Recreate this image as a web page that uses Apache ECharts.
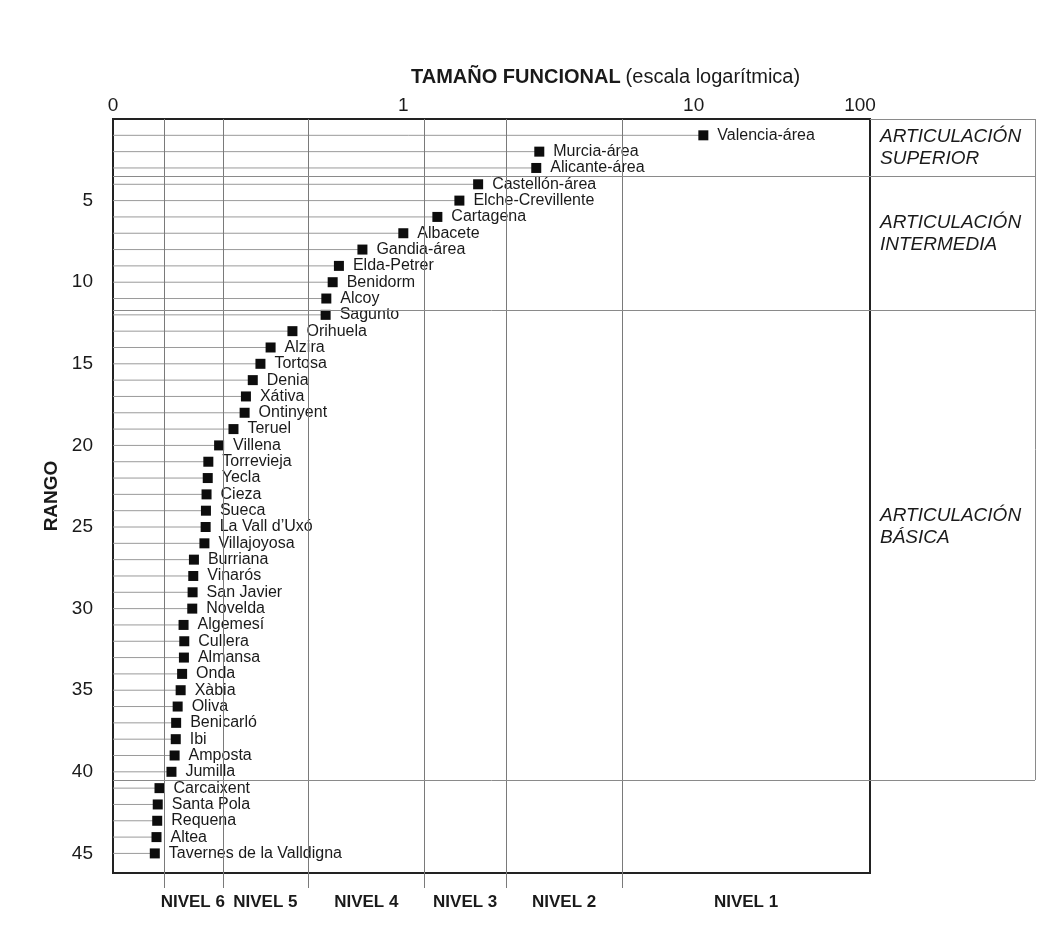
<!DOCTYPE html>
<html>
<head>
<meta charset="utf-8">
<script src="https://cdn.jsdelivr.net/npm/echarts@6/dist/echarts.min.js"></script>
<style>
  html, body { margin: 0; padding: 0; background: #fff; }
  #chart { width: 1060px; height: 950px; }
</style>
</head>
<body>
<div id="chart"></div>
<script>
// Urban areas ordered by rank, with their functional size (log scale)
const cities = [
  'Valencia-área', 'Murcia-área', 'Alicante-área', 'Castellón-área', 'Elche-Crevillente',
  'Cartagena', 'Albacete', 'Gandia-área', 'Elda-Petrer', 'Benidorm',
  'Alcoy', 'Sagunto', 'Orihuela', 'Alzira', 'Tortosa',
  'Denia', 'Xátiva', 'Ontinyent', 'Teruel', 'Villena',
  'Torrevieja', 'Yecla', 'Cieza', 'Sueca', 'La Vall d\u2019Uxó',
  'Villajoyosa', 'Burriana', 'Vinarós', 'San Javier', 'Novelda',
  'Algemesí', 'Cullera', 'Almansa', 'Onda', 'Xàbia',
  'Oliva', 'Benicarló', 'Ibi', 'Amposta', 'Jumilla',
  'Carcaixent', 'Santa Pola', 'Requena', 'Altea', 'Tavernes de la Valldigna'
];
const sizes = [
  10.8, 2.94, 2.87, 1.81, 1.56,
  1.31, 1.00, 0.723, 0.600, 0.571,
  0.543, 0.540, 0.415, 0.349, 0.322,
  0.303, 0.287, 0.284, 0.260, 0.232,
  0.213, 0.212, 0.210, 0.209, 0.2085,
  0.2065, 0.190, 0.189, 0.188, 0.1875,
  0.175, 0.176, 0.1755, 0.173, 0.171,
  0.167, 0.165, 0.1645, 0.163, 0.159,
  0.1446, 0.1426, 0.1420, 0.1412, 0.1393
];
const ranks = cities.map((c, i) => i + 1);

// Top axis tick labels, in tick order
const xTickLabels = ['0', '1', '10', '100'];

// Functional size thresholds separating the hierarchy levels
const levelBounds = [0.149, 0.238, 0.471, 1.18, 2.26, 5.67];
const levelNames = ['NIVEL 6', 'NIVEL 5', 'NIVEL 4', 'NIVEL 3', 'NIVEL 2', 'NIVEL 1'];

// Rank breaks between articulation tiers
const tierBreaks = [3.5, 11.7, 40.5];
const tierNames = ['ARTICULACIÓN\nSUPERIOR', 'ARTICULACIÓN\nINTERMEDIA', 'ARTICULACIÓN\nBÁSICA'];
const tierLabelShift = [0, -9, -18];

const X_MIN = 0.1, X_MAX = 40.5, Y_MAX = 46.2;
const FONT = 'Liberation Sans, Arial, Helvetica, sans-serif';

const chart = echarts.init(document.getElementById('chart'), null, { renderer: 'canvas' });

const levelEdges = levelBounds.concat([X_MAX]);
const levelAreas = levelNames.map((name, i) => [
  { xAxis: levelEdges[i], name: name },
  { xAxis: levelEdges[i + 1] }
]);

const tierEdges = [0].concat(tierBreaks);
const tierAreas = tierNames.map((name, i) => [
  { yAxis: tierEdges[i], name: name, label: { offset: [0, tierLabelShift[i]] } },
  { yAxis: tierEdges[i + 1] }
]);

const option = {
  animation: false,
  backgroundColor: '#fff',
  textStyle: { fontFamily: FONT },
  title: {
    text: '{b|TAMAÑO FUNCIONAL} {n|(escala logarítmica)}',
    left: 406,
    top: 62,
    textStyle: {
      fontWeight: 'normal',
      rich: {
        b: { fontFamily: FONT, fontSize: 20, fontWeight: 'bold', color: '#1a1a1a' },
        n: { fontFamily: FONT, fontSize: 20, fontWeight: 'normal', color: '#1a1a1a' }
      }
    }
  },
  grid: [
    { left: 113, top: 119, width: 757, height: 754, show: true, borderColor: '#222', borderWidth: 2, backgroundColor: 'transparent' },
    { left: 870, top: 119, width: 165, height: 754 },
    { left: 113, top: 873, width: 757, height: 15 }
  ],
  xAxis: [
    {
      gridIndex: 0, type: 'log', logBase: 10, position: 'top',
      min: X_MIN, max: X_MAX,
      axisLine: { show: false }, axisTick: { show: false }, splitLine: { show: false },
      axisLabel: {
        fontFamily: FONT, fontSize: 19, color: '#1a1a1a', margin: 4,
        showMinLabel: true, showMaxLabel: true,
        formatter: (v, i) => {
          const t = xTickLabels[i];
          if (t === undefined) return '';
          // the last label sits just inside the frame corner
          return i === xTickLabels.length - 1 ? '{end|' + t + '}' : t;
        },
        rich: {
          end: { fontFamily: FONT, fontSize: 19, color: '#1a1a1a', padding: [0, 20, 0, 0] }
        }
      }
    },
    { gridIndex: 1, type: 'value', min: 0, max: 1, show: false },
    { gridIndex: 2, type: 'log', logBase: 10, min: X_MIN, max: X_MAX, show: false }
  ],
  yAxis: [
    {
      gridIndex: 0, type: 'value', inverse: true, min: 0, max: Y_MAX, interval: 5,
      axisLine: { show: false }, axisTick: { show: false }, splitLine: { show: false },
      axisLabel: {
        fontFamily: FONT, fontSize: 19, color: '#1a1a1a', margin: 20,
        formatter: v => (v > 0 && v % 5 === 0 ? String(v) : '')
      },
      name: 'RANGO', nameLocation: 'middle', nameRotate: 90, nameGap: 48,
      nameTextStyle: { fontFamily: FONT, fontSize: 19, fontWeight: 'bold', color: '#1a1a1a' }
    },
    { gridIndex: 1, type: 'value', inverse: true, min: 0, max: Y_MAX, show: false },
    { gridIndex: 2, type: 'value', min: 0, max: 1, show: false }
  ],
  series: [
    {
      // leader line from the left edge to each city's size
      type: 'custom',
      xAxisIndex: 0, yAxisIndex: 0,
      silent: true, z: 1,
      data: sizes.map((v, i) => [v, ranks[i]]),
      renderItem: (params, api) => {
        const r = api.value(1);
        const p0 = api.coord([X_MIN, r]);
        const p1 = api.coord([api.value(0), r]);
        return {
          type: 'line',
          shape: { x1: p0[0], y1: p0[1], x2: p1[0], y2: p1[1] },
          style: { stroke: '#9a9a9a', lineWidth: 1 }
        };
      }
    },
    {
      type: 'scatter',
      xAxisIndex: 0, yAxisIndex: 0, z: 3,
      symbol: 'rect', symbolSize: 10,
      itemStyle: { color: '#0d0d0d', opacity: 1 },
      data: sizes.map((v, i) => [v, ranks[i]]),
      label: {
        show: true, position: 'right', distance: 9,
        fontFamily: FONT, fontSize: 16, color: '#1a1a1a',
        formatter: p => cities[p.dataIndex]
      },
      markLine: {
        silent: true, symbol: ['none', 'none'], label: { show: false },
        lineStyle: { color: '#7a7a7a', width: 1, type: 'solid' },
        data: levelBounds.map(b => ({ xAxis: b }))
          .concat(tierBreaks.map(t => ({ yAxis: t, lineStyle: { color: '#8a8a8a', width: 1, type: 'solid' } })))
      }
    },
    {
      // level dividers continue below the frame, with level names
      type: 'scatter',
      xAxisIndex: 2, yAxisIndex: 2,
      data: [],
      markLine: {
        silent: true, symbol: ['none', 'none'], label: { show: false },
        lineStyle: { color: '#7a7a7a', width: 1, type: 'solid' },
        data: levelBounds.map(b => ({ xAxis: b }))
      },
      markArea: {
        silent: true,
        itemStyle: { color: 'rgba(0,0,0,0)' },
        label: {
          show: true, position: 'bottom', distance: 6,
          fontFamily: FONT, fontSize: 17, fontWeight: 'bold', color: '#1a1a1a'
        },
        data: levelAreas
      }
    },
    {
      // articulation tier box on the right
      type: 'scatter',
      xAxisIndex: 1, yAxisIndex: 1,
      data: [],
      markLine: {
        silent: true, symbol: ['none', 'none'], label: { show: false },
        lineStyle: { color: '#8a8a8a', width: 1, type: 'solid' },
        data: tierBreaks.map(t => ({ yAxis: t })).concat([
          [{ coord: [0, 0] }, { coord: [1, 0] }],
          [{ coord: [1, 0] }, { coord: [1, tierBreaks[tierBreaks.length - 1]] }]
        ])
      },
      markArea: {
        silent: true,
        itemStyle: { color: 'rgba(0,0,0,0)' },
        label: {
          show: true, position: 'insideLeft', distance: 10,
          fontFamily: FONT, fontSize: 19, fontStyle: 'italic', color: '#1a1a1a',
          lineHeight: 22
        },
        data: tierAreas
      }
    }
  ]
};

chart.setOption(option);
</script>
</body>
</html>
